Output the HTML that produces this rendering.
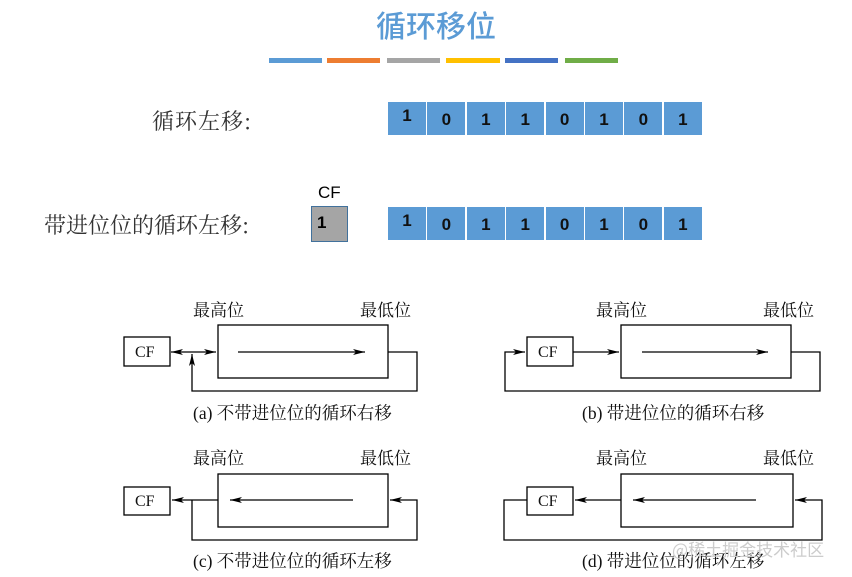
<!DOCTYPE html>
<html><head><meta charset="utf-8"><style>
body{margin:0;background:#fff;width:852px;height:577px;overflow:hidden;position:relative;font-family:"Liberation Sans","Noto Sans CJK SC",sans-serif}
.a{position:absolute}
.cell{position:absolute;width:38px;height:33px;background:#5b9bd5;color:#111;font-weight:bold;font-size:17px;text-align:center;line-height:36px}
</style></head><body>
<div class="a" style="left:376px;top:4px;font-size:30px;font-weight:500;color:#5b9bd5;font-family:'Noto Sans CJK SC',sans-serif;line-height:40px">循环移位</div>
<div class="a" style="left:269px;top:58px;width:53px;height:5px;background:#5b9bd5"></div>
<div class="a" style="left:327px;top:58px;width:53px;height:5px;background:#ed7d31"></div>
<div class="a" style="left:387px;top:58px;width:53px;height:5px;background:#a5a5a5"></div>
<div class="a" style="left:446px;top:58px;width:54px;height:5px;background:#ffc000"></div>
<div class="a" style="left:505px;top:58px;width:53px;height:5px;background:#4472c4"></div>
<div class="a" style="left:565px;top:58px;width:53px;height:5px;background:#70ad47"></div>
<div class="a" style="left:152px;top:105px;font-size:22px;color:#333;font-family:'Noto Serif CJK SC',serif;letter-spacing:1px">循环左移:</div>
<div class="a" style="left:44px;top:209px;font-size:22px;color:#333;font-family:'Noto Serif CJK SC',serif">带进位位的循环左移:</div>
<div class="a" style="left:318px;top:183px;font-size:17px">CF</div>
<div class="a" style="left:311px;top:206px;width:35px;height:34px;background:#a5a5a5;border:1px solid #41719c;font-weight:bold;font-size:17px;line-height:32px;text-indent:5px">1</div>
<div id="r1"></div>
<script>
var v=[1,0,1,1,0,1,0,1];var h='';
[102,207].forEach(function(y){v.forEach(function(b,i){var l=388+i*39.4;h+='<div class="cell" style="left:'+l+'px;top:'+y+'px;'+(i==0?'line-height:28px':'')+'">'+b+'</div>';});});
document.getElementById('r1').outerHTML=h;
</script>
<svg class="a" style="left:0;top:0" width="852" height="577" font-family="'Liberation Serif','Noto Serif CJK SC',serif">
<defs><marker id="m" markerWidth="12" markerHeight="6" refX="12" refY="3" orient="auto" markerUnits="userSpaceOnUse"><path d="M0,0L12,3L0,6L3,3z" fill="#000"/></marker></defs>
<g stroke="#000" stroke-width="1.3" fill="none">
<rect x="124" y="337" width="46" height="29"/><rect x="218" y="325" width="170" height="53"/>
<line x1="238" y1="352" x2="365" y2="352" marker-end="url(#m)"/>
<line x1="192" y1="352" x2="216" y2="352" marker-end="url(#m)"/>
<line x1="192" y1="352" x2="171" y2="352" marker-end="url(#m)"/>
<polyline points="388,352 417,352 417,391 192,391 192,354" marker-end="url(#m)"/>
<rect x="527" y="337" width="46" height="29"/><rect x="621" y="325" width="170" height="53"/>
<line x1="642" y1="352" x2="768" y2="352" marker-end="url(#m)"/>
<line x1="573" y1="352" x2="619" y2="352" marker-end="url(#m)"/>
<polyline points="791,352 820,352 820,391 505,391 505,352 525,352" marker-end="url(#m)"/>
<rect x="124" y="487" width="46" height="28"/><rect x="218" y="474" width="170" height="53"/>
<line x1="353" y1="500" x2="230" y2="500" marker-end="url(#m)"/>
<line x1="218" y1="500" x2="172" y2="500" marker-end="url(#m)"/>
<polyline points="192,500 192,540 417,540 417,500 390,500" marker-end="url(#m)"/>
<rect x="527" y="487" width="46" height="28"/><rect x="621" y="474" width="172" height="53"/>
<line x1="756" y1="500" x2="633" y2="500" marker-end="url(#m)"/>
<line x1="621" y1="500" x2="575" y2="500" marker-end="url(#m)"/>
<polyline points="527,500 504,500 504,540 822,540 822,500 795,500" marker-end="url(#m)"/>
</g>
<g font-size="16" fill="#111">
<text x="135" y="357">CF</text><text x="538" y="357">CF</text><text x="135" y="506">CF</text><text x="538" y="506">CF</text>
<text x="193" y="316" font-size="17">最高位</text><text x="360" y="316" font-size="17">最低位</text>
<text x="596" y="316" font-size="17">最高位</text><text x="763" y="316" font-size="17">最低位</text>
<text x="193" y="464" font-size="17">最高位</text><text x="360" y="464" font-size="17">最低位</text>
<text x="596" y="464" font-size="17">最高位</text><text x="763" y="464" font-size="17">最低位</text>
<g font-size="17.5">
<text x="193" y="419">(a) 不带进位位的循环右移</text>
<text x="582" y="419">(b) 带进位位的循环右移</text>
<text x="193" y="567">(c) 不带进位位的循环左移</text>
<text x="582" y="567">(d) 带进位位的循环左移</text>
</g>
</g>
<text x="672" y="556" font-size="17" fill="#ccc" font-family="'Noto Sans CJK SC',sans-serif">@稀土掘金技术社区</text>
</svg>
</body></html>
